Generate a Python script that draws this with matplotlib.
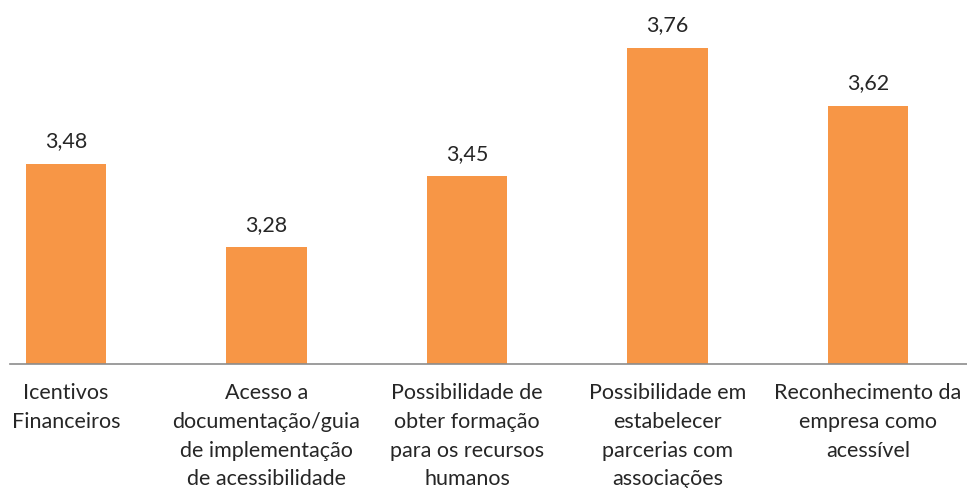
import matplotlib.pyplot as plt

categories = ["Icentivos\nFinanceiros",
              "Acesso a\ndocumentação/guia\nde implementação\nde acessibilidade",
              "Possibilidade de\nobter formação\npara os recursos\nhumanos",
              "Possibilidade em\nestabelecer\nparcerias com\nassociações",
              "Reconhecimento da\nempresa como\nacessível"]
values = [3.48, 3.28, 3.45, 3.76, 3.62]
value_labels = ["3,48", "3,28", "3,45", "3,76", "3,62"]

plt.rcParams['font.family'] = ['Lato', 'DejaVu Sans']
fig = plt.figure(figsize=(9.67, 4.88), dpi=100)
ax = fig.add_axes([10/967, 124.5/488, 957/967, 332.5/488])

x = list(range(len(values)))
bars = ax.bar(x, values, width=0.4, color='#F79646', bottom=0)
ax.set_ylim(3.0, 3.8)
ax.set_xlim(-0.279, 4.494)

for xi, v, lab in zip(x, values, value_labels):
    ax.annotate(lab, (xi, v), xytext=(0, 9), textcoords='offset points',
                ha='center', va='bottom', fontsize=15.5, color='#262626')

ax.set_xticks(x)
ax.set_xticklabels(categories, fontsize=15.5, color='#262626', linespacing=1.55)
ax.tick_params(axis='x', length=0, pad=14)
ax.set_yticks([])
for s in ['top', 'right', 'left']:
    ax.spines[s].set_visible(False)
ax.spines['bottom'].set_color('#8c8c8c')
ax.spines['bottom'].set_linewidth(1.2)

plt.savefig('out.png', dpi=100)
